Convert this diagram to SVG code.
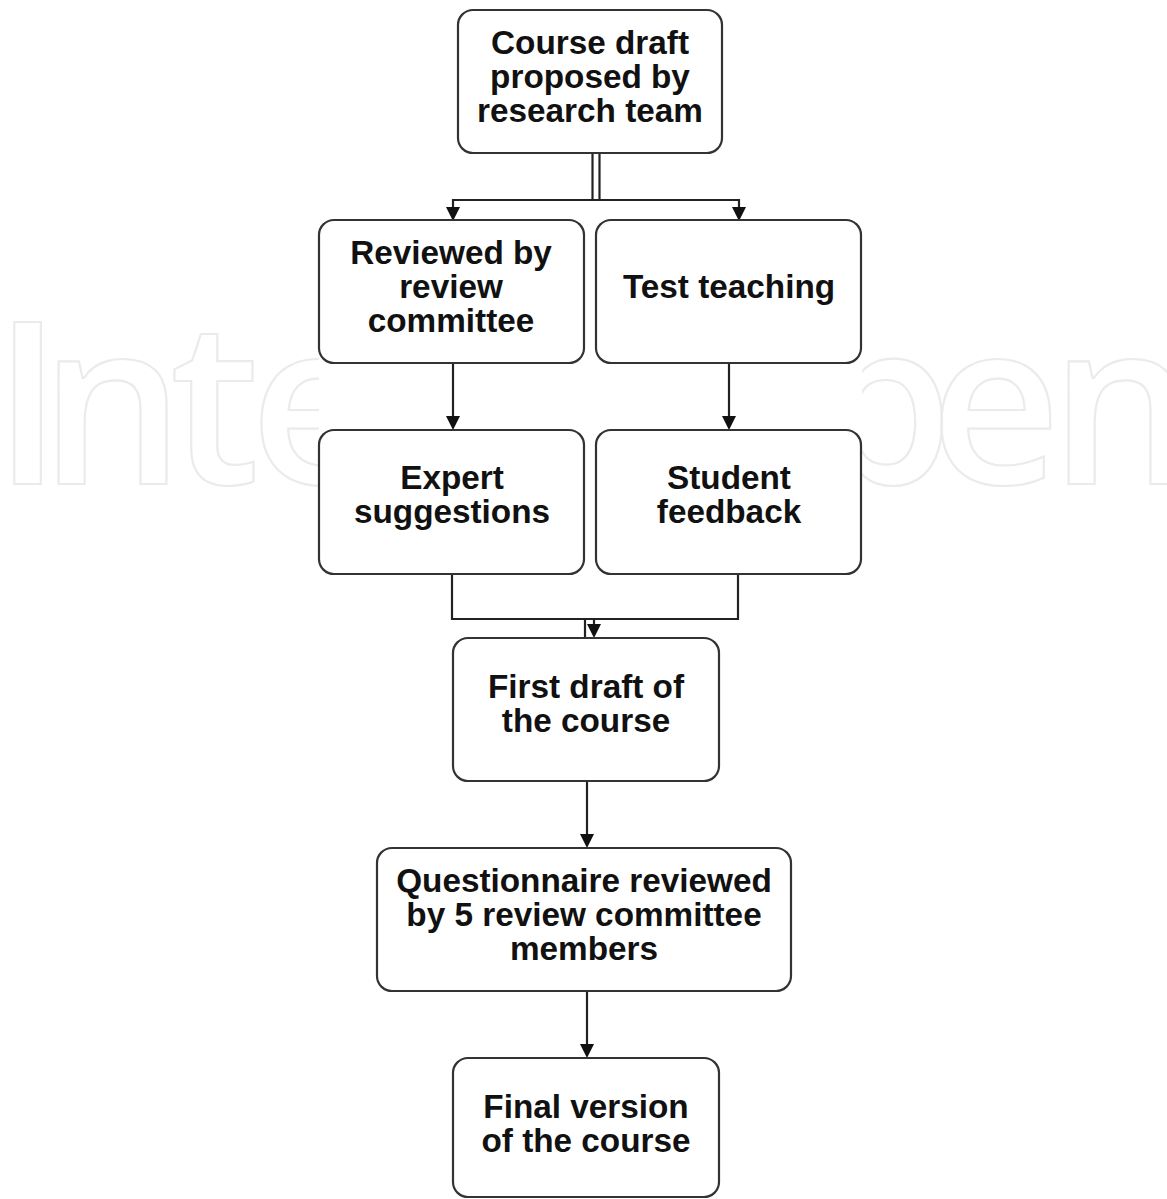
<svg xmlns="http://www.w3.org/2000/svg" width="1167" height="1199" viewBox="0 0 1167 1199">
<style>
.box{fill:#fff;stroke:#333;stroke-width:2.2}
.t{font-family:"Liberation Sans",Arial,sans-serif;font-weight:bold;font-size:33.3px;fill:#111;text-anchor:middle}
.c{fill:none;stroke:#222;stroke-width:2.2}
.wm{font-family:"Open Sans","Noto Sans",sans-serif;font-weight:600;font-size:227px;fill:none;stroke:#ebebeb;stroke-width:2.2}
.ah{fill:#111}
</style>
<defs>
<clipPath id="wmL"><rect x="0" y="250" width="319" height="260"/></clipPath>
<clipPath id="wmR"><rect x="862" y="250" width="305" height="260"/></clipPath>
</defs>
<rect width="1167" height="1199" fill="#fff"/>
<g id="watermark">
<text class="wm" x="-7 40 170 250" y="484" clip-path="url(#wmL)">Inte</text>
<text class="wm" x="812 930 1050" y="484" clip-path="url(#wmR)">pen</text>
</g>
<g id="connectors">
<line class="c" x1="592.5" y1="153" x2="592.5" y2="200"/>
<line class="c" x1="599.5" y1="153" x2="599.5" y2="200"/>
<polyline class="c" points="453,210 453,200 739,200 739,210"/>
<path class="ah" d="M446,207 L460,207 L453,221 Z"/>
<path class="ah" d="M732,207 L746,207 L739,221 Z"/>
<line class="c" x1="453" y1="363" x2="453" y2="418"/>
<path class="ah" d="M446,416 L460,416 L453,430 Z"/>
<line class="c" x1="729" y1="363" x2="729" y2="418"/>
<path class="ah" d="M722,416 L736,416 L729,430 Z"/>
<polyline class="c" points="452,574 452,619 738,619 738,574"/>
<line class="c" x1="585" y1="619" x2="585" y2="641"/>
<line class="c" x1="594" y1="619" x2="594" y2="628"/>
<path class="ah" d="M587,624 L601,624 L594,638 Z"/>
<line class="c" x1="587" y1="781" x2="587" y2="836"/>
<path class="ah" d="M580,834 L594,834 L587,848 Z"/>
<line class="c" x1="587" y1="991" x2="587" y2="1046"/>
<path class="ah" d="M580,1044 L594,1044 L587,1058 Z"/>
</g>
<g id="n1">
<rect class="box" x="458" y="10" width="264" height="143" rx="15"/>
<text class="t" x="590" y="54">Course draft</text>
<text class="t" x="590" y="88">proposed by</text>
<text class="t" x="590" y="122">research team</text>
</g>
<g id="n2">
<rect class="box" x="319" y="220" width="265" height="143" rx="15"/>
<text class="t" x="451" y="264">Reviewed by</text>
<text class="t" x="451" y="298">review</text>
<text class="t" x="451" y="332">committee</text>
</g>
<g id="n3">
<rect class="box" x="596" y="220" width="265" height="143" rx="15"/>
<text class="t" x="729" y="298">Test teaching</text>
</g>
<g id="n4">
<rect class="box" x="319" y="430" width="265" height="144" rx="15"/>
<text class="t" x="452" y="489">Expert</text>
<text class="t" x="452" y="523">suggestions</text>
</g>
<g id="n5">
<rect class="box" x="596" y="430" width="265" height="144" rx="15"/>
<text class="t" x="729" y="489">Student</text>
<text class="t" x="729" y="523">feedback</text>
</g>
<g id="n6">
<rect class="box" x="453" y="638" width="266" height="143" rx="15"/>
<text class="t" x="586" y="698">First draft of</text>
<text class="t" x="586" y="732">the course</text>
</g>
<g id="n7">
<rect class="box" x="377" y="848" width="414" height="143" rx="15"/>
<text class="t" x="584" y="892">Questionnaire reviewed</text>
<text class="t" x="584" y="926">by 5 review committee</text>
<text class="t" x="584" y="960">members</text>
</g>
<g id="n8">
<rect class="box" x="453" y="1058" width="266" height="139" rx="15"/>
<text class="t" x="586" y="1118">Final version</text>
<text class="t" x="586" y="1152">of the course</text>
</g>
</svg>
